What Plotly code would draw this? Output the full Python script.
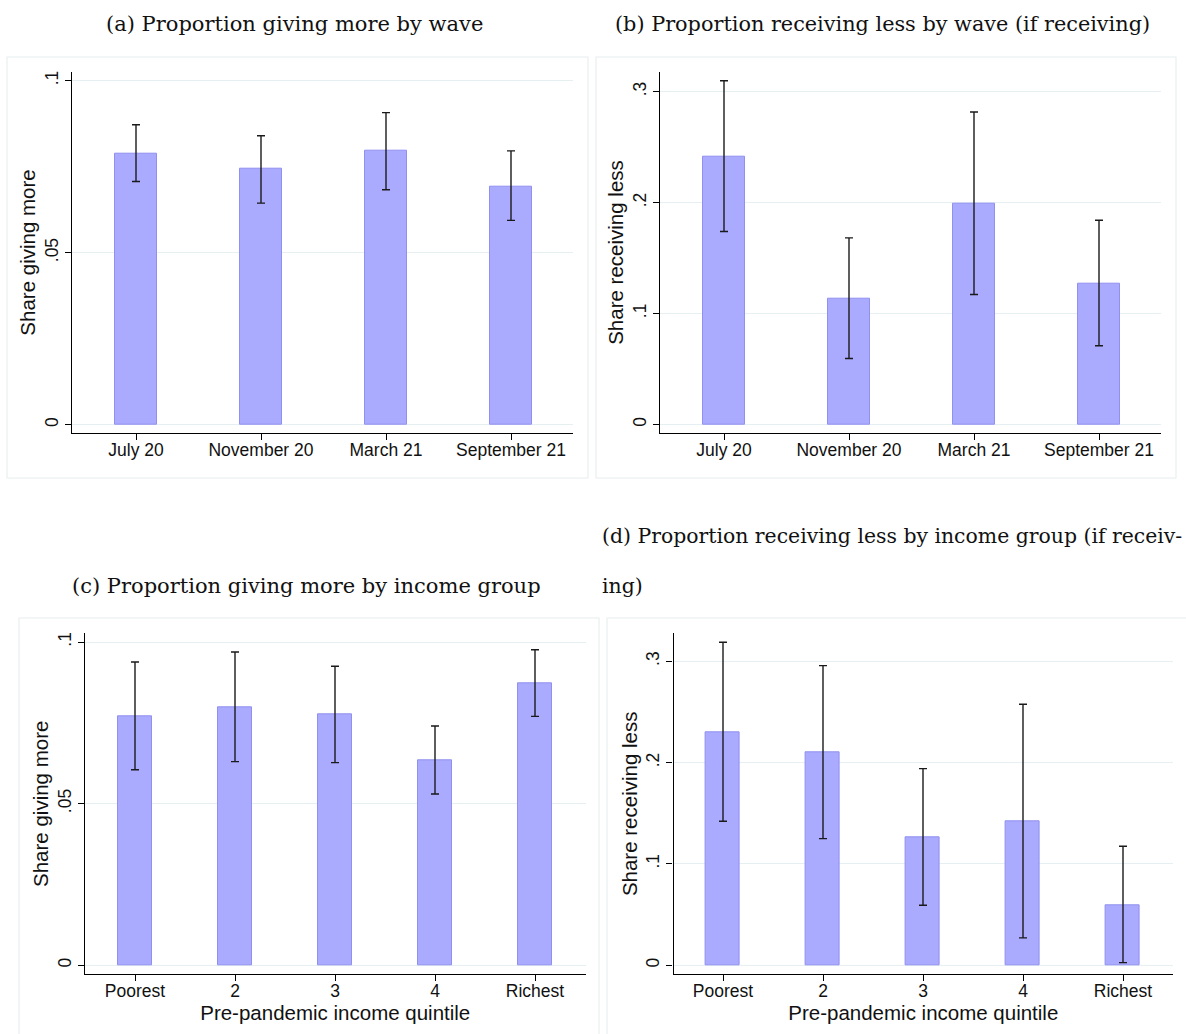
import plotly.graph_objects as go

W, H = 1186, 1034

# ---- data ----
waves = ["July 20", "November 20", "March 21", "September 21"]
give_wave = [0.0789, 0.0743, 0.0795, 0.0693]
give_wave_lo = [0.0707, 0.0644, 0.0683, 0.0594]
give_wave_hi = [0.0872, 0.0840, 0.0907, 0.0796]

recv_wave = [0.2417, 0.1135, 0.1994, 0.1270]
recv_wave_lo = [0.1739, 0.0595, 0.1171, 0.0709]
recv_wave_hi = [0.3099, 0.1682, 0.2817, 0.1841]

quintiles = ["Poorest", "2", "3", "4", "Richest"]
give_q = [0.0771, 0.0799, 0.0776, 0.0635, 0.0873]
give_q_lo = [0.0605, 0.0630, 0.0627, 0.0530, 0.0770]
give_q_hi = [0.0938, 0.0969, 0.0925, 0.0740, 0.0976]

recv_q = [0.2299, 0.2102, 0.1263, 0.1424, 0.0595]
recv_q_lo = [0.1421, 0.1250, 0.0592, 0.0270, 0.0026]
recv_q_hi = [0.3188, 0.2957, 0.1941, 0.2576, 0.1174]

titles = [
    "(a) Proportion giving more by wave",
    "(b) Proportion receiving less by wave (if receiving)",
    "(c) Proportion giving more by income group",
    "(d) Proportion receiving less by income group (if receiv-",
    "ing)",
]

BAR = "#aaaaff"
BAR_LINE = "#9090f0"
GRID = "#e6eff1"
BOX = "#e8eef0"
SANS = "Liberation Sans, Arial, sans-serif"
SERIF = "DejaVu Serif, Liberation Serif, serif"

fig = go.Figure()

panels = [
    (waves, give_wave, give_wave_lo, give_wave_hi, "x", "y"),
    (waves, recv_wave, recv_wave_lo, recv_wave_hi, "x2", "y2"),
    (quintiles, give_q, give_q_lo, give_q_hi, "x3", "y3"),
    (quintiles, recv_q, recv_q_lo, recv_q_hi, "x4", "y4"),
]

for cats, v, lo, hi, xa, ya in panels:
    fig.add_trace(go.Bar(
        x=list(range(len(cats))), y=v, width=0.34,
        marker=dict(color=BAR, line=dict(color=BAR_LINE, width=1)),
        error_y=dict(type="data", symmetric=False,
                     array=[h - a for h, a in zip(hi, v)],
                     arrayminus=[a - l for a, l in zip(v, lo)],
                     color="#1a1a1a", thickness=1.4, width=4),
        xaxis=xa, yaxis=ya, showlegend=False, hoverinfo="skip",
    ))

def px_x(a, b):
    return [a / W, b / W]

def px_y(top, bottom):
    return [1 - bottom / H, 1 - top / H]

axis_common = dict(showline=True, linecolor="#000", linewidth=1.3,
                   ticks="outside", ticklen=6, tickcolor="#000", tickwidth=1.2,
                   tickfont=dict(family=SANS, size=17.5, color="#111"),
                   zeroline=False)

def xax(dom, anchor, cats, rng, title=None):
    d = dict(axis_common, domain=dom, anchor=anchor, range=rng,
             tickmode="array", tickvals=list(range(len(cats))), ticktext=cats,
             showgrid=False, ticklabelstandoff=-5)
    if title:
        d["title"] = dict(text=title, font=dict(family=SANS, size=20.5, color="#111"), standoff=0)
    return d

def yax(dom, anchor, rng, vals, txt, title):
    return dict(axis_common, domain=dom, anchor=anchor, range=rng,
                tickmode="array", tickvals=vals, ticktext=txt, tickangle=-90,
                showgrid=True, gridcolor=GRID, gridwidth=1, ticklabelstandoff=0,
                title=dict(text=title, font=dict(family=SANS, size=20.5, color="#111"), standoff=0))

top_y = px_y(71.7, 433.3)
bot_y = px_y(633.3, 974.3)

fig.update_layout(
    width=W, height=H,
    margin=dict(l=0, r=0, t=0, b=0),
    paper_bgcolor="white", plot_bgcolor="white",
    bargap=0,
    xaxis=xax(px_x(72, 573), "y", waves, [-0.512, 3.496]),
    yaxis=yax(top_y, "x", [-0.0025, 0.1026], [0, 0.05, 0.1], ["0", ".05", ".1"], "Share giving more"),
    xaxis2=xax(px_x(660, 1161), "y2", waves, [-0.512, 3.496]),
    yaxis2=yax(top_y, "x2", [-0.008, 0.318], [0, 0.1, 0.2, 0.3], ["0", ".1", ".2", ".3"], "Share receiving less"),
    xaxis3=xax(px_x(85, 585.5), "y3", quintiles, [-0.5, 4.505], "Pre-pandemic income quintile"),
    yaxis3=yax(bot_y, "x3", [-0.0028, 0.1027], [0, 0.05, 0.1], ["0", ".05", ".1"], "Share giving more"),
    xaxis4=xax(px_x(673.6, 1173), "y4", quintiles, [-0.494, 4.5], "Pre-pandemic income quintile"),
    yaxis4=yax(bot_y, "x4", [-0.0089, 0.3276], [0, 0.1, 0.2, 0.3], ["0", ".1", ".2", ".3"], "Share receiving less"),
)

# panel boxes
boxes = [(7, 57, 588, 478), (596, 57, 1176, 478), (19, 618, 599, 1040), (607, 618, 1192, 1040)]
for x0, y0, x1, y1 in boxes:
    fig.add_shape(type="rect", xref="paper", yref="paper",
                  x0=x0 / W, x1=x1 / W, y0=1 - y1 / H, y1=1 - y0 / H,
                  line=dict(color=BOX, width=1.2), fillcolor="rgba(0,0,0,0)", layer="below")

# titles
title_pos = [(294, 24, "center", 21), (882, 24, "center", 20.8), (306, 586, "center", 21),
             (600, 536, "left", 20.4), (600, 586, "left", 20.4)]
for t, (x, y, al, fs) in zip(titles, title_pos):
    fig.add_annotation(text=t, xref="paper", yref="paper", x=x / W, y=1 - y / H,
                       xanchor=al, yanchor="middle", showarrow=False,
                       font=dict(family=SERIF, size=fs, color="#111"))

fig.write_html("out.html", config={"displayModeBar": False},
               post_script="document.body.style.margin='0';")
